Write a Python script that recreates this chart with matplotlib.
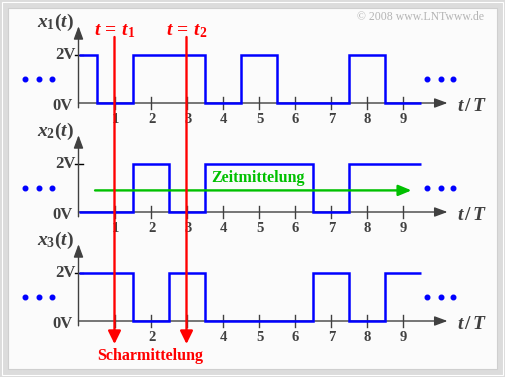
import matplotlib
matplotlib.use("Agg")
import matplotlib.pyplot as plt
from matplotlib.patches import Rectangle

plt.rcParams["font.family"] = "Liberation Serif"
plt.rcParams["mathtext.fontset"] = "custom"
plt.rcParams["mathtext.rm"] = "Liberation Serif:bold"
plt.rcParams["mathtext.it"] = "Liberation Serif:italic:bold"
plt.rcParams["mathtext.bf"] = "Liberation Serif:bold"

# signal data (levels in V between the edges, t in units of T)
edges = [0, 0.5, 1.5, 2.5, 3.5, 4.5, 5.5, 6.5, 7.5, 8.5, 9.5]
x1_levels = [2, 0, 2, 2, 0, 2, 0, 0, 2, 0]
x2_levels = [0, 0, 2, 0, 2, 2, 2, 0, 2, 2]
x3_levels = [2, 2, 0, 2, 0, 0, 0, 2, 0, 2]
signal_names = ["$x_1(t)$", "$x_2(t)$", "$x_3(t)$"]

ticks = [1, 2, 3, 4, 5, 6, 7, 8, 9]
hidden_ticks = [[], [], [1, 3]]
level_labels = ["0V", "2V"]

t_marks = [1, 3]
t_mark_labels = ["$t\\,=\\,t_1$", "$t\\,=\\,t_2$"]
time_avg_level = 0.9
time_avg_span = [0.46, 9.25]

# layout (pixels)
W, H = 505, 377
T0, PX, VPX = 78.5, 36, 24
zero_rows = [103, 212, 321]
xlim = (-T0 / PX, (W - T0) / PX)

AX_COL = "#404040"
BLUE = "#0000ff"
RED = "#ff0000"
GREEN = "#00c000"

fig = plt.figure(figsize=(W / 100, H / 100), dpi=100)
fig.patch.set_facecolor("#dcdcdc")
fig.patches.append(Rectangle((1.5 / W, 2 / H), (W - 3.5) / W, (H - 4) / H,
                             transform=fig.transFigure, fill=False,
                             ec="white", lw=0.8, zorder=-2))
fig.patches.append(Rectangle((8 / W, 8 / H), (497 - 8) / W, (369 - 8) / H,
                             transform=fig.transFigure, fc="#fbfbfb",
                             ec="#cfcfcf", lw=0.8, zorder=-1))

arrow_kw = dict(arrowstyle="-|>,head_length=0.65,head_width=0.24",
                color=AX_COL, lw=1.0, shrinkA=0, shrinkB=0,
                mutation_scale=12)

levels = [x1_levels, x2_levels, x3_levels]
for k, y0 in enumerate(zero_rows):
    top, bot = y0 - 100, y0 + 30
    ax = fig.add_axes([0, 1 - bot / H, 1, (bot - top) / H])
    ax.set_xlim(xlim)
    ax.set_ylim(-(bot - y0) / VPX, (y0 - top) / VPX)
    ax.axis("off")
    ax.patch.set_alpha(0)

    # axes with arrows
    ax.annotate("", xy=(10.25, 0), xytext=(0, 0), arrowprops=arrow_kw)
    ax.annotate("", xy=(0, 3.2), xytext=(0, -0.2), arrowprops=arrow_kw)
    ax.plot([-0.1, 0.13], [2, 2], color="black", lw=1.0)
    for t in ticks:
        ax.plot([t, t], [-0.25, 0.25], color=AX_COL, lw=1.0)
        if t not in hidden_ticks[k]:
            ax.text(t + 0.03, -0.7, str(t), ha="center", va="center",
                    fontsize=10.5, fontweight="bold", color=AX_COL)
    ax.text(-0.08, 2, level_labels[1], ha="right", va="center",
            fontsize=12, fontweight="bold", color=AX_COL)
    ax.text(-0.15, -0.12, level_labels[0], ha="right", va="center",
            fontsize=12, fontweight="bold", color=AX_COL)
    ax.text(-0.12, 3.35, signal_names[k], ha="right", va="center",
            fontsize=14, color=AX_COL)
    ax.text(10.5, -0.15, "$t\\,/\\,T$", ha="left", va="center",
            fontsize=14, color=AX_COL)

    # signal
    ax.stairs(levels[k], edges, baseline=None, color=BLUE, lw=1.8, zorder=3)
    ax.plot([-1.49, -1.1, -0.74], [1, 1, 1], "o", ms=3.3, color=BLUE)
    ax.plot([9.67, 10.06, 10.41], [1, 1, 1], "o", ms=3.3, color=BLUE)

    if k == 1:
        ax.annotate("", xy=(time_avg_span[1], time_avg_level),
                    xytext=(time_avg_span[0], time_avg_level),
                    arrowprops=dict(arrowstyle="-|>,head_length=0.65,head_width=0.27",
                                    color=GREEN, lw=1.7, shrinkA=0, shrinkB=0,
                                    mutation_scale=12), zorder=5)
        ax.text(5.0, 1.4, "Zeitmittelung", ha="center", va="center",
                fontsize=11.5, fontweight="bold", color=GREEN, zorder=5)

# overlay for ensemble averaging arrows
ov = fig.add_axes([0, 0, 1, 1])
ov.set_xlim(xlim)
ov.set_ylim(H, 0)
ov.axis("off")
ov.patch.set_alpha(0)
for t, lab in zip(t_marks, t_mark_labels):
    ov.annotate("", xy=(t, 344), xytext=(t, 37),
                arrowprops=dict(arrowstyle="-|>,head_length=0.65,head_width=0.32",
                                color=RED, lw=1.7, shrinkA=0, shrinkB=0,
                                mutation_scale=12))
    ov.text(t, 35, lab, ha="center", va="baseline", fontsize=14, color=RED)
ov.text(2.0, 356, "Scharmittelung", ha="center", va="center",
        fontsize=11.5, fontweight="bold", color=RED)

fig.text(484 / W, 1 - 17 / H, "\u00a9 2008 www.LNTwww.de", ha="right",
         va="center", fontsize=8.5, color="#b4b4b4")

fig.savefig("out.png", dpi=100, facecolor=fig.get_facecolor())
